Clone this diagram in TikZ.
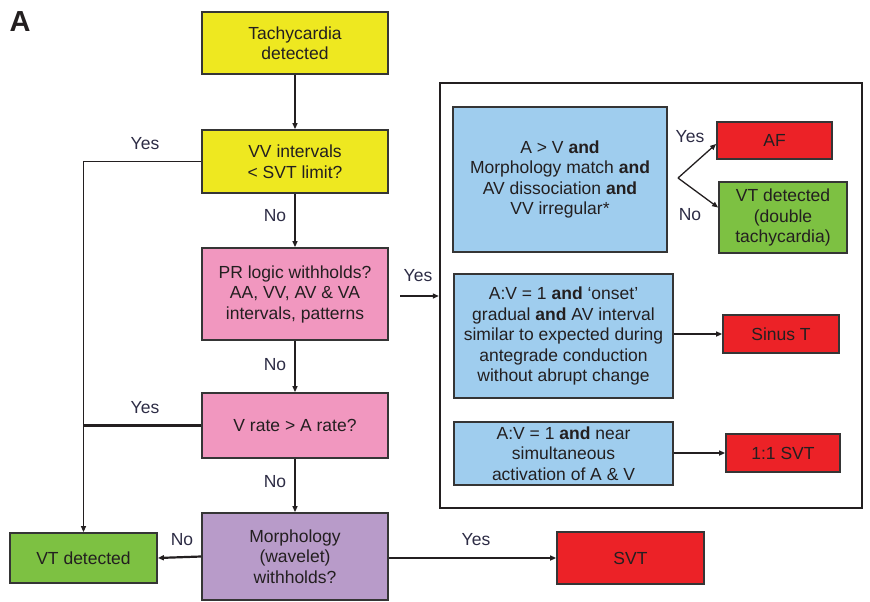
\documentclass[tikz,border=0pt]{standalone}
\usepackage{fontspec}
\setmainfont{Liberation Sans}
\usetikzlibrary{arrows.meta}
\definecolor{boxyellow}{HTML}{EEE820}
\definecolor{boxpink}{HTML}{F197BF}
\definecolor{boxpurple}{HTML}{B89BC9}
\definecolor{boxgreen}{HTML}{7DC142}
\definecolor{boxred}{HTML}{EC2227}
\definecolor{boxblue}{HTML}{9FCDEE}
\definecolor{edgegray}{HTML}{353535}
\definecolor{ink}{HTML}{231F20}
\definecolor{labelink}{HTML}{2D2C45}
\begin{document}
\begin{tikzpicture}[x=1pt,y=-1pt,
  box/.style={draw=edgegray, line width=1.8pt, align=center, inner sep=0pt,
    text=ink, font=\fontsize{17.5}{20.5}\selectfont},
  lbl/.style={text=labelink, font=\fontsize{17.5}{20.5}\selectfont, inner sep=0pt},
  arr/.style={-{Triangle[length=6pt,width=5pt]}, line width=1.3pt, draw=ink},
  thickarr/.style={arr, line width=2.2pt},
  conn/.style={line width=1.3pt, draw=ink}]
\useasboundingbox (0,0) rectangle (870,602);

% panel letter
\node[font=\fontsize{29}{30}\selectfont\bfseries, text=ink, inner sep=0pt] (panel) at (20,22) {A};

% main decision column
\node[box, fill=boxyellow, minimum width=186pt, minimum height=62pt] (tach) at (295,43) {Tachycardia\\detected};
\node[box, fill=boxyellow, minimum width=186pt, minimum height=63pt] (vv) at (295,161.5) {VV intervals\\< SVT limit?};
\node[box, fill=boxpink, minimum width=186pt, minimum height=92pt] (pr) at (295,294) {PR logic withholds?\\AA, VV, AV \& VA\\intervals, patterns};
\node[box, fill=boxpink, minimum width=186pt, minimum height=65pt] (vrate) at (295,425.5) {V rate > A rate?};
\node[box, fill=boxpurple, minimum width=186pt, minimum height=87pt] (morph) at (295,556.5) {Morphology\\(wavelet)\\withholds?};
\node[box, fill=boxgreen, minimum width=147pt, minimum height=50pt] (vtd) at (83.5,558) {VT detected};
\node[box, fill=boxred, minimum width=147pt, minimum height=52pt] (svt) at (630.5,558) {SVT};

% PR logic detail frame
\node[draw=ink, line width=2.4pt, minimum width=422pt, minimum height=425pt, inner sep=0pt] (frm) at (651,295.5) {};
\node[box, fill=boxblue, minimum width=214pt, minimum height=145pt] (cA) at (560,179.5)
  {A > V \textbf{and}\\Morphology match \textbf{and}\\AV dissociation \textbf{and}\\VV irregular*};
\node[box, fill=boxblue, minimum width=219pt, minimum height=124pt] (cB) at (563.5,336)
  {A:V = 1 \textbf{and} ‘onset’\\gradual \textbf{and} AV interval\\similar to expected during\\antegrade conduction\\without abrupt change};
\node[box, fill=boxblue, minimum width=219pt, minimum height=63pt] (cC) at (563.5,453.5)
  {A:V = 1 \textbf{and} near\\simultaneous\\activation of A \& V};
\node[box, fill=boxred, minimum width=115pt, minimum height=37pt] (af) at (774.5,140.5) {AF};
\node[box, fill=boxgreen, minimum width=128pt, minimum height=71pt] (vtdd) at (783,217.5) {VT detected\\(double\\tachycardia)};
\node[box, fill=boxred, minimum width=116pt, minimum height=38pt] (sinus) at (781,334) {Sinus T};
\node[box, fill=boxred, minimum width=114pt, minimum height=38pt] (svtone) at (783,453) {1:1 SVT};

% connectors of the main column
\draw[arr] (tach) -- (vv);
\draw[arr] (vv) -- (pr);
\draw[arr] (pr) -- (vrate);
\draw[arr] (vrate) -- (morph);
\draw[arr] (vv.west) -| (vtd.north);
\draw[conn, line width=2.2pt] (vrate.west) -- (vrate.west -| vtd.north);
\draw[thickarr] (morph.west) -- (vtd.east);
\draw[thickarr] (morph.east |- svt.west) -- (svt.west);

% into the detail frame
\coordinate (prout) at (400,296);
\draw[arr] (prout) -- (prout -| frm.west);

% fork to AF / double tachycardia
\coordinate (fork) at (678,178);
\draw[arr] (fork) -- ([yshift=-3.5pt]af.west);
\draw[arr] (fork) -- ([yshift=10pt]vtdd.west);
\draw[thickarr] (cB.east |- sinus.west) -- (sinus.west);
\draw[thickarr] (cC.east |- svtone.west) -- (svtone.west);

% branch labels
\node[lbl] (l1) at (145,144) {Yes};
\node[lbl] (l2) at (275,216) {No};
\node[lbl] (l3) at (275,365) {No};
\node[lbl] (l4) at (145,408) {Yes};
\node[lbl] (l5) at (275,482) {No};
\node[lbl] (l6) at (182,540) {No};
\node[lbl] (l7) at (476,540) {Yes};
\node[lbl] (l8) at (418,276) {Yes};
\node[lbl] (l9) at (690,137) {Yes};
\node[lbl] (l10) at (690,215) {No};
\end{tikzpicture}
\end{document}
